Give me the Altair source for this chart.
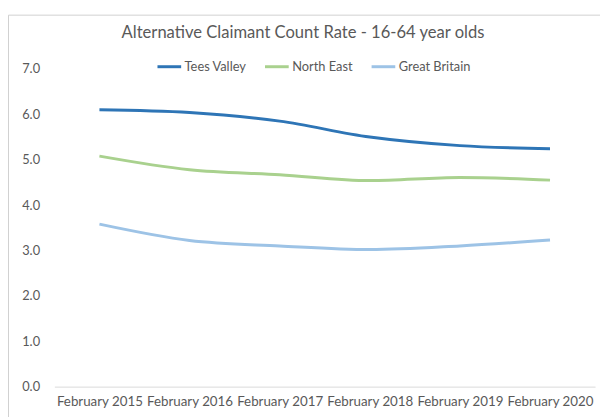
import altair as alt
import pandas as pd

periods = ["February 2015", "February 2016", "February 2017",
           "February 2018", "February 2019", "February 2020"]
series_names = ["Tees Valley", "North East", "Great Britain"]
tees_valley = [6.10, 6.04, 5.85, 5.50, 5.31, 5.24]
north_east = [5.08, 4.78, 4.67, 4.54, 4.61, 4.55]
great_britain = [3.58, 3.22, 3.10, 3.02, 3.10, 3.23]
colors = ["#2E75B6", "#A9D18E", "#9DC3E6"]
y_ticks = [0, 1, 2, 3, 4, 5, 6, 7]

rows = []
for name, vals in zip(series_names, [tees_valley, north_east, great_britain]):
    for p, v in zip(periods, vals):
        rows.append({"period": p, "series": name, "rate": v})
df = pd.DataFrame(rows)

FONT = "Lato"
GRAY = "#595959"

lines = alt.Chart(df).mark_line(strokeWidth=3, interpolate="monotone").encode(
    x=alt.X("period:N", sort=periods, title=None,
            scale=alt.Scale(type="point", padding=0.5),
            axis=alt.Axis(labelAngle=0, ticks=False, domainColor="#D9D9D9",
                          domainWidth=1, labelPadding=8, labelFontSize=13.5,
                          labelFont=FONT, labelColor=GRAY)),
    y=alt.Y("rate:Q", title=None,
            scale=alt.Scale(domain=[0, 7], nice=False),
            axis=alt.Axis(values=y_ticks, format=".1f", domain=False, ticks=False,
                          grid=False, labelPadding=15, labelFontSize=13,
                          labelFont=FONT, labelColor=GRAY)),
    color=alt.Color("series:N", sort=series_names,
                    scale=alt.Scale(domain=series_names, range=colors),
                    legend=alt.Legend(title=None, orient="none", direction="horizontal",
                                      legendX=103, legendY=-16,
                                      symbolType="stroke", symbolSize=576,
                                      symbolStrokeWidth=3, labelOffset=2,
                                      columnPadding=12, labelFontSize=13,
                                      labelFont=FONT, labelColor=GRAY)),
)

border = alt.Chart(pd.DataFrame({"k": [0]})).mark_rule(color="#D0D0D0", strokeWidth=1).encode(
    x=alt.value(-46.5), y=alt.value(-54.5), y2=alt.value(360)
)
border_top = alt.Chart(pd.DataFrame({"k": [0]})).mark_rule(color="#D0D0D0", strokeWidth=1).encode(
    x=alt.value(-46.5), x2=alt.value(560), y=alt.value(-54.5)
)

chart = alt.layer(border, border_top, lines).properties(
    width=548, height=322,
    autosize=alt.AutoSizeParams(type="none"),
    padding={"left": 47, "top": 59, "right": 5, "bottom": 28},
    title=alt.TitleParams("Alternative Claimant Count Rate - 16-64 year olds",
                          anchor="middle", dx=-22, offset=-35, baseline="middle",
                          fontSize=16.8, font=FONT, fontWeight="normal", color=GRAY),
).configure_view(stroke=None)

chart.save("out.html", embed_options={"renderer": "svg", "actions": False})
